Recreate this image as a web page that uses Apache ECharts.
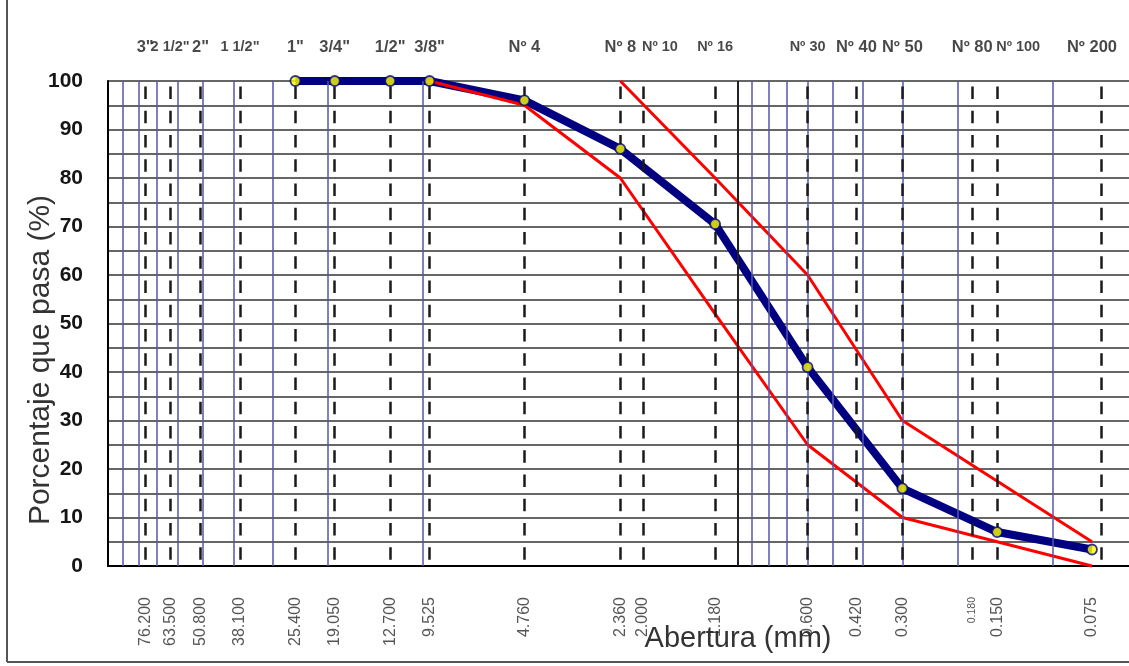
<!DOCTYPE html>
<html>
<head>
<meta charset="utf-8">
<script src="https://cdn.jsdelivr.net/npm/echarts@6/dist/echarts.min.js"></script>
<style>
html,body{margin:0;padding:0;background:#fff;}
#chart{width:1129px;height:666px;}
</style>
</head>
<body>
<div id="chart"></div>
<script>
// ---- data ----
const sieveSizes = [76.2, 63.5, 50.8, 38.1, 25.4, 19.05, 12.7, 9.525, 4.76, 2.36, 2.0, 1.18, 0.6, 0.42, 0.3, 0.18, 0.15, 0.075];
const sieveNames = ['3"', '2 1/2"', '2"', '1 1/2"', '1"', '3/4"', '1/2"', '3/8"', 'Nº 4', 'Nº 8', 'Nº 10', 'Nº 16', 'Nº 30', 'Nº 40', 'Nº 50', 'Nº 80', 'Nº 100', 'Nº 200'];
const sizeLabels = ['76.200', '63.500', '50.800', '38.100', '25.400', '19.050', '12.700', '9.525', '4.760', '2.360', '2.000', '1.180', '0.600', '0.420', '0.300', '0.180', '0.150', '0.075'];
const logGridLines = [90, 80, 70, 60, 50, 40, 30, 20, 10, 0.9, 0.8, 0.7, 0.6, 0.5, 0.4, 0.3, 0.2, 0.1];
const decadeLines = [1];

const gradationSizes = [25.4, 19.05, 12.7, 9.525, 4.76, 2.36, 1.18, 0.6, 0.3, 0.15, 0.075];
const gradationPassing = [100, 100, 100, 100, 96, 86, 70.5, 41, 16, 7, 3.4];

const lowerSizes = [9.525, 4.76, 2.36, 1.18, 0.6, 0.3, 0.075];
const lowerPassing = [100, 95, 80, 52, 25, 10, 0];

const upperSizes = [2.36, 1.18, 0.6, 0.3, 0.075];
const upperPassing = [100, 80, 60, 30, 5];

const yTicks = [0, 10, 20, 30, 40, 50, 60, 70, 80, 90, 100];

// ---- styling lookups (not data) ----
const smallTop = {'2 1/2"': true, '1 1/2"': true, 'Nº 10': true, 'Nº 16': true, 'Nº 30': true, 'Nº 100': true};
const leftAlignTop = {'Nº 10': true, 'Nº 100': true};
const smallBottom = {'0.180': true};

const FONT = '"Liberation Sans", Arial, sans-serif';

const pairs = (xs, ys) => xs.map((x, i) => [x, ys[i]]);

const vLines = [];
logGridLines.forEach(v => vLines.push({xAxis: v, lineStyle: {color: '#5656a8', width: 1.5, type: 'solid'}}));
decadeLines.forEach(v => vLines.push({xAxis: v, lineStyle: {color: '#222', width: 2, type: 'solid'}}));
sieveSizes.forEach(v => vLines.push({xAxis: v, lineStyle: {color: '#1a1a1a', width: 2.5, type: [12.5, 11.75], dashOffset: 18.1}}));

const topLabelData = sieveSizes.map((s, i) => {
  const nm = sieveNames[i];
  const left = !!leftAlignTop[nm];
  return {
    value: [s, 100],
    label: {
      formatter: nm,
      fontSize: smallTop[nm] ? 14.5 : 16.5,
      align: left ? 'left' : 'center',
      offset: [left ? -1 : 0, -34]
    }
  };
});

const bottomLabelData = sieveSizes.map((s, i) => {
  const t = sizeLabels[i];
  return {
    value: [s, 0],
    label: {formatter: t, fontSize: smallBottom[t] ? 10.5 : 16}
  };
});

const chart = echarts.init(document.getElementById('chart'), null, {renderer: 'canvas'});
chart.setOption({
  animation: false,
  backgroundColor: '#fff',
  grid: {left: 108, right: 0, top: 81, bottom: 100},
  xAxis: {
    type: 'log', logBase: 10, inverse: true, min: 0.0572, max: 100,
    axisLine: {show: true, onZero: false, lineStyle: {color: '#000', width: 2}},
    axisTick: {show: false}, axisLabel: {show: false}, splitLine: {show: false}
  },
  yAxis: {
    type: 'value', min: 0, max: 100, interval: 5,
    axisLine: {show: true, lineStyle: {color: '#000', width: 2}},
    axisTick: {show: false},
    axisLabel: {
      formatter: v => (yTicks.indexOf(v) >= 0 ? String(v) : ''),
      fontSize: 21, fontWeight: 'bold', color: '#151515', margin: 25, fontFamily: FONT
    },
    splitLine: {show: true, lineStyle: {color: '#333', width: 1.6}}
  },
  series: [
    {
      type: 'line', data: [], silent: true,
      markLine: {symbol: ['none', 'none'], silent: true, label: {show: false}, animation: false, data: vLines}
    },
    {
      name: 'gradation', type: 'line', data: pairs(gradationSizes, gradationPassing),
      showSymbol: false, lineStyle: {color: '#000080', width: 8}, z: 3, clip: false
    },
    {
      name: 'lower', type: 'line', data: pairs(lowerSizes, lowerPassing),
      showSymbol: false, lineStyle: {color: '#ff0000', width: 3}, z: 4, clip: false
    },
    {
      name: 'upper', type: 'line', data: pairs(upperSizes, upperPassing),
      showSymbol: false, lineStyle: {color: '#ff0000', width: 3}, z: 4, clip: false
    },
    {
      name: 'points', type: 'scatter', data: pairs(gradationSizes, gradationPassing),
      symbol: 'circle', symbolSize: 10,
      itemStyle: {color: '#ffff00', borderColor: '#000080', borderWidth: 1.8}, z: 5, clip: false
    },
    {
      name: 'topLabels', type: 'scatter', data: topLabelData, symbolSize: 1,
      itemStyle: {color: 'rgba(0,0,0,0)'}, silent: true, clip: false,
      label: {show: true, position: 'inside', color: '#1a1a1a', fontWeight: 'bold', fontFamily: FONT, verticalAlign: 'middle'}
    },
    {
      name: 'bottomLabels', type: 'scatter', data: bottomLabelData, symbolSize: 1,
      itemStyle: {color: 'rgba(0,0,0,0)'}, silent: true, clip: false,
      label: {show: true, position: 'inside', rotate: 90, align: 'right', verticalAlign: 'middle', offset: [-31, 0], color: '#2a2a2a', fontFamily: FONT}
    }
  ],
  graphic: [
    {type: 'line', shape: {x1: 7, y1: 0, x2: 7, y2: 662}, style: {stroke: '#555', lineWidth: 2}},
    {type: 'line', shape: {x1: 7, y1: 662, x2: 1129, y2: 662}, style: {stroke: '#555', lineWidth: 2}},
    {type: 'text', x: 41, y: 360, rotation: Math.PI / 2,
     style: {text: 'Porcentaje que pasa (%)', font: '30px ' + FONT, fill: '#333', textAlign: 'center', textVerticalAlign: 'middle'}},
    {type: 'text', x: 738, y: 639,
     style: {text: 'Abertura (mm)', font: '29px ' + FONT, fill: '#333', textAlign: 'center', textVerticalAlign: 'middle'}}
  ]
});
</script>
</body>
</html>
